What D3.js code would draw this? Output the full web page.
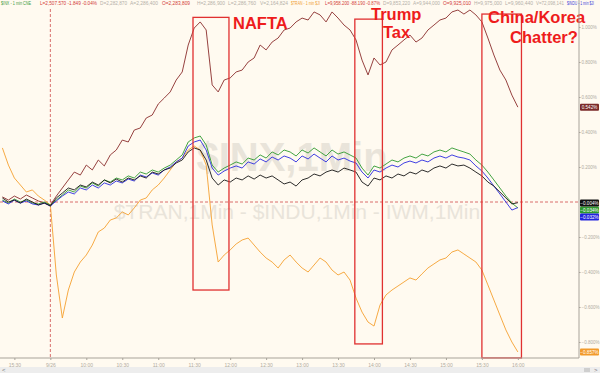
<!DOCTYPE html>
<html>
<head>
<meta charset="utf-8">
<script src="https://cdnjs.cloudflare.com/ajax/libs/d3/7.8.5/d3.min.js"></script>
<style>
  body { margin: 0; background: #fffaf0; }
  svg { display: block; font-family: "Liberation Sans", Arial, sans-serif; }
  .axis path, .axis line { stroke: #a8a39a; }
  .axis text { fill: #b0aba2; font-size: 5px; }
  .axis--y text { font-size: 4.5px; }
</style>
</head>
<body>
<svg width="600" height="373"></svg>
<script>
// minutes from 9:30 on 9/26 (negative = previous session), one point each 5 min
var minutes = [-40,-35,-30,-25,-20,-15,-10,-5,0,5,10,15,20,25,30,35,40,45,50,55,60,65,70,75,80,85,90,95,100,105,110,115,120,125,130,135,140,145,150,155,160,165,170,175,180,185,190,195,200,205,210,215,220,225,230,235,240,245,250,255,260,265,270,275,280,285,290,295,300,305,310,315,320,325,330,335,340,345,350,355,360,365,370,375,380,385,390];

// % change
var brown = [.029,.011,.034,.017,.040,.023,.006,-.006,-.017,.034,.080,.126,.171,.154,.211,.183,.240,.206,.269,.297,.354,.343,.411,.423,.480,.497,.560,.594,.629,.697,.743,.897,.994,1.029,.983,.669,.629,.697,.709,.743,.754,.800,.823,.897,.869,.914,.937,.983,.994,1.029,1.051,1.040,1.086,1.069,1.029,1.086,1.051,1.011,.983,.926,.811,.726,.823,.783,.800,.869,.897,.926,.954,.914,.937,.983,1.011,1.040,1.051,1.086,1.097,1.074,1.097,1.069,1.029,.937,.840,.754,.697,.611,.542];
var green = [.011,-.006,.017,0,.011,-.006,-.011,0,-.017,.011,.040,.069,.057,.091,.080,.109,.091,.126,.114,.137,.126,.149,.137,.171,.160,.183,.171,.194,.211,.240,.269,.343,.366,.377,.326,.211,.171,.194,.211,.229,.217,.251,.240,.269,.251,.286,.269,.297,.286,.263,.297,.280,.309,.286,.263,.297,.274,.286,.269,.251,.194,.154,.206,.194,.217,.240,.229,.251,.263,.251,.274,.263,.286,.297,.286,.309,.297,.286,.274,.240,.211,.171,.126,.080,.034,-.006,-.034];
var black = [.023,0,.011,-.006,.017,0,-.017,-.006,-.023,.023,.051,.080,.069,.097,.086,.114,.097,.126,.109,.131,.114,.137,.126,.149,.137,.171,.160,.183,.194,.223,.240,.286,.309,.297,.240,.137,.097,.126,.114,.137,.126,.149,.131,.154,.137,.149,.126,.103,.114,.091,.126,.137,.160,.149,.171,.183,.171,.194,.183,.171,.114,.091,.137,.126,.149,.137,.160,.149,.171,.160,.183,.171,.194,.206,.194,.217,.206,.211,.194,.171,.149,.114,.091,.057,.023,-.011,-.004];
var blue = [.006,-.011,.011,-.006,.006,-.011,-.017,-.006,-.023,.006,.034,.057,.046,.080,.069,.097,.080,.109,.097,.120,.109,.131,.120,.154,.143,.166,.154,.183,.200,.229,.251,.320,.343,.354,.297,.194,.154,.177,.194,.206,.194,.229,.217,.246,.229,.257,.240,.263,.251,.229,.263,.246,.274,.251,.229,.263,.240,.251,.234,.223,.171,.137,.183,.171,.194,.211,.200,.223,.234,.223,.240,.229,.251,.263,.251,.269,.257,.251,.240,.206,.177,.137,.091,.046,0,-.046,-.032];
var orange = [.309,.211,.137,.097,.057,.069,.034,.011,-.017,-.417,-.663,-.503,-.400,-.343,-.303,-.246,-.171,-.149,-.103,-.091,-.057,-.074,-.034,.011,.023,.069,.097,.137,.183,.229,.251,.297,.320,.297,.211,-.131,-.343,-.303,-.274,-.240,-.217,-.206,-.246,-.286,-.320,-.343,-.377,-.331,-.303,-.343,-.377,-.400,-.360,-.320,-.343,-.389,-.417,-.400,-.446,-.549,-.629,-.686,-.709,-.589,-.531,-.503,-.480,-.457,-.434,-.446,-.411,-.377,-.354,-.331,-.320,-.286,-.274,-.297,-.320,-.343,-.389,-.474,-.560,-.646,-.731,-.800,-.857];

var tickMinutes = [-30,0,30,60,90,120,150,180,210,240,270,300,330,360,390];
var tickLabels = ["15:30","9/26","10:00","10:30","11:00","11:30","12:00","12:30","13:00","13:30","14:00","14:30","15:00","15:30","16:00"];
var pctTicks = [-0.8,-0.6,-0.4,-0.2,0.2,0.4,0.6,0.8,1.0];

// boxes round the news, in minutes and %
var boxes = [
    {from: 119, to: 149, top: 1.055, bottom: -0.503},
    {from: 254, to: 277, top: 1.045, bottom: -0.811},
    {from: 360, to: 393, top: 1.074, bottom: -0.891}
];

var series = [
    {name: "brown", values: brown, color: "#8a2d2b", tag: "#7b2a28"},
    {name: "orange", values: orange, color: "#f5a030", tag: "#f29a2a"},
    {name: "green", values: green, color: "#2f9a2f", tag: "#2e9a2e"},
    {name: "blue", values: blue, color: "#2a2ae0", tag: "#2323dd"},
    {name: "black", values: black, color: "#151515", tag: "#111111"}
];

var svg = d3.select("svg"),
    width = 579,      // right axis position
    bottom = 358;     // time axis position

var x = d3.scaleLinear().domain([-42, 441]).range([0, width]),
    y = d3.scaleLinear().domain([-0.8, 1.0]).range([342, 27]);

svg.append("rect").attr("width", 600).attr("height", 373).attr("fill", "#fffaf0");

// watermark
svg.append("text")
    .attr("x", 292).attr("y", 171)
    .attr("text-anchor", "middle")
    .attr("font-size", 40).attr("font-weight", "bold")
    .attr("fill", "#e9e4da")
    .text("$INX,1Min");
svg.append("text")
    .attr("x", 297).attr("y", 219)
    .attr("text-anchor", "middle")
    .attr("font-size", 21)
    .attr("fill", "#e9e4da")
    .text("$TRAN,1Min - $INDU,1Min - IWM,1Min");

// zero line and session break
svg.append("line")
    .attr("x1", 0).attr("x2", width)
    .attr("y1", y(0)).attr("y2", y(0))
    .attr("stroke", "#cf4a4a").attr("stroke-dasharray", "3,2").attr("stroke-width", 0.8);
svg.append("line")
    .attr("x1", x(0)).attr("x2", x(0))
    .attr("y1", 9).attr("y2", bottom)
    .attr("stroke", "#cf4a4a").attr("stroke-dasharray", "3,2").attr("stroke-width", 0.8);

// the lines
var line = d3.line()
    .x(function(d, i) { return x(minutes[i]); })
    .y(function(d) { return y(d); });

svg.selectAll(".series")
    .data(series)
    .enter().append("path")
    .attr("class", "series")
    .attr("fill", "none")
    .attr("stroke", function(d) { return d.color; })
    .attr("stroke-width", 0.9)
    .attr("d", function(d) { return line(d.values); });

// red boxes
svg.selectAll(".box")
    .data(boxes)
    .enter().append("rect")
    .attr("class", "box")
    .attr("x", function(d) { return x(d.from); })
    .attr("y", function(d) { return y(d.top); })
    .attr("width", function(d) { return x(d.to) - x(d.from); })
    .attr("height", function(d) { return y(d.bottom) - y(d.top); })
    .attr("fill", "none")
    .attr("stroke", "#e03030")
    .attr("stroke-width", 1.3);

// notes
var notes = [
    {text: "NAFTA", x: 233, y: 29},
    {text: "Trump", x: 371, y: 20},
    {text: "Tax", x: 383, y: 38},
    {text: "China/Korea", x: 488, y: 23},
    {text: "Chatter?", x: 510, y: 43}
];
svg.selectAll(".note")
    .data(notes)
    .enter().append("text")
    .attr("class", "note")
    .attr("x", function(d) { return d.x; })
    .attr("y", function(d) { return d.y; })
    .attr("font-size", 16.5)
    .attr("font-weight", "bold")
    .attr("fill", "#ee1c1c")
    .text(function(d) { return d.text; });

// axes
svg.append("g")
    .attr("class", "axis")
    .attr("transform", "translate(0," + bottom + ")")
    .call(d3.axisBottom(x).tickValues(tickMinutes).tickSize(2).tickPadding(3)
        .tickFormat(function(d, i) { return tickLabels[i]; }))
    .call(function(g) { g.select(".domain").attr("d", "M0,0H" + width); });

svg.append("g")
    .attr("class", "axis axis--y")
    .attr("transform", "translate(" + width + ",0)")
    .call(d3.axisRight(y).tickValues(pctTicks).tickSize(1.5).tickPadding(1)
        .tickFormat(function(d) { return d3.format(".3f")(d) + "%"; }))
    .call(function(g) { g.select(".domain").attr("d", "M0,0V" + bottom); });

// last value tags on the right
var tagY = {brown: null, black: 203, green: 210, blue: 217, orange: 352};
var tags = svg.selectAll(".tag")
    .data(series)
    .enter().append("g")
    .attr("class", "tag")
    .attr("transform", function(d) {
        var v = d.values[d.values.length - 1];
        var ty = tagY[d.name] === null ? y(v) : tagY[d.name];
        return "translate(" + (width + 1) + "," + ty + ")";
    });
tags.append("rect")
    .attr("x", 0).attr("y", -3.5)
    .attr("width", 19).attr("height", 7)
    .attr("rx", 1)
    .attr("fill", function(d) { return d.tag; });
tags.append("text")
    .attr("x", 9.5).attr("y", 1.8)
    .attr("text-anchor", "middle")
    .attr("font-size", 4.6)
    .attr("fill", "#fff")
    .text(function(d) { return d3.format(".3f")(d.values[d.values.length - 1]) + "%"; });

// header quote line
var header = [
    {t: "$INX - 1 min  CNE", x: 1, w: 30, c: "#3c9a3c"},
    {t: "L=2,507.570  -1.849  -0.04%", x: 40, w: 57, c: "#d23a3a"},
    {t: "D=2,282,870", x: 100, w: 27, c: "#b5b0a8"},
    {t: "A=2,286,400", x: 130, w: 28, c: "#b5b0a8"},
    {t: "O=2,283,809", x: 162, w: 28, c: "#d23a3a"},
    {t: "H=2,286,900", x: 197, w: 28, c: "#b5b0a8"},
    {t: "L=2,286,760", x: 228, w: 28, c: "#b5b0a8"},
    {t: "V=2,164,824", x: 260, w: 28, c: "#b5b0a8"},
    {t: "$TRAN - 1 min  $JI", x: 291, w: 29, c: "#f0a030"},
    {t: "L=9,958.200  -88.190  -0.87%", x: 325, w: 55, c: "#d23a3a"},
    {t: "D=9,853,220", x: 383, w: 27, c: "#b5b0a8"},
    {t: "A=9,944,000", x: 413, w: 27, c: "#b5b0a8"},
    {t: "O=9,925,010", x: 443, w: 28, c: "#d23a3a"},
    {t: "H=9,975,000", x: 474, w: 28, c: "#b5b0a8"},
    {t: "L=9,960,440", x: 505, w: 28, c: "#b5b0a8"},
    {t: "V=72,098,141", x: 536, w: 28, c: "#b5b0a8"},
    {t: "$INDU - 1 min $JI", x: 567, w: 27, c: "#3a3ad8"}
];
svg.selectAll(".head")
    .data(header)
    .enter().append("text")
    .attr("class", "head")
    .attr("x", function(d) { return d.x; })
    .attr("y", 5)
    .attr("font-size", 4.5)
    .attr("textLength", function(d) { return d.w; })
    .attr("lengthAdjust", "spacingAndGlyphs")
    .attr("fill", function(d) { return d.c; })
    .text(function(d) { return d.t; });

// scroll bar strip
svg.append("rect").attr("x", 0).attr("y", 367).attr("width", 600).attr("height", 6).attr("fill", "#ededed");
svg.append("rect").attr("x", 584).attr("y", 368).attr("width", 6).attr("height", 4).attr("fill", "#cfcfcf");
svg.append("text").attr("x", 2).attr("y", 372).attr("font-size", 6).attr("fill", "#777").text("<");
svg.append("text").attr("x", 594).attr("y", 372).attr("font-size", 6).attr("fill", "#777").text(">");
</script>
</body>
</html>
